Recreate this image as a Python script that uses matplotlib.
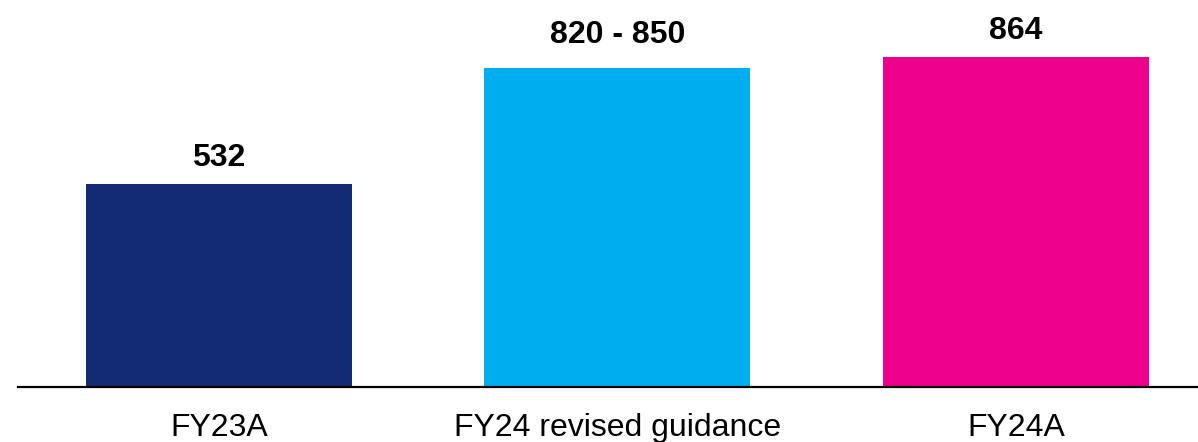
import matplotlib.pyplot as plt

plt.rcParams['font.family'] = ['Liberation Sans', 'DejaVu Sans']

# Chart data
categories = ["FY23A", "FY24 revised guidance", "FY24A"]
values = [532, 835, 864]
label_pos = [532, 855, 864]
value_labels = ["532", "820 - 850", "864"]
colors = ["#122B72", "#00AEEF", "#EC008C"]

fig = plt.figure(figsize=(11.98, 4.42), dpi=100)
ax = fig.add_axes([18 / 1198, 1 - 387 / 442, 1180 / 1198, 387 / 442])

x = list(range(len(categories)))
ax.bar(x, values, width=0.667, color=colors)

# Value labels above the bars
for xi, yv, txt in zip(x, label_pos, value_labels):
    ax.annotate(txt, (xi, yv), xytext=(0, 8), textcoords="offset points",
                ha="center", va="bottom", fontsize=23, fontweight="bold")

ax.set_xlim(-0.504, 2.457)
ax.set_ylim(0, 1014)
ax.set_xticks(x)
ax.set_xticklabels(categories, fontsize=23)
ax.tick_params(axis="x", length=0, pad=19)
ax.set_yticks([])

for side in ["top", "right", "left"]:
    ax.spines[side].set_visible(False)
ax.spines["bottom"].set_linewidth(1.6)

fig.savefig("out.png", dpi=100)
